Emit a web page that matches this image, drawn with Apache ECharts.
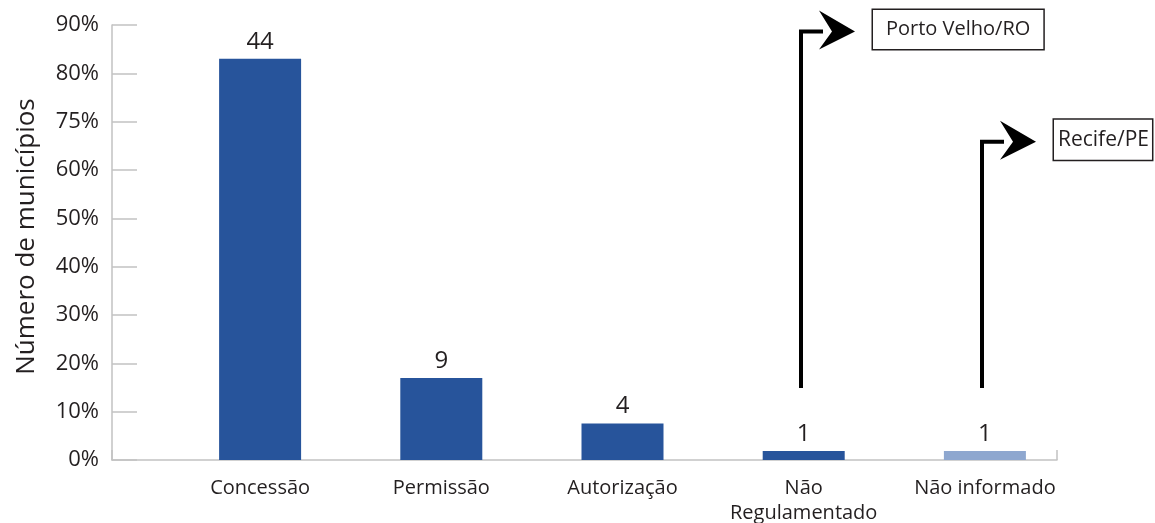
<!DOCTYPE html>
<html>
<head>
<meta charset="utf-8">
<script src="https://cdn.jsdelivr.net/npm/echarts@6/dist/echarts.min.js"></script>
<style>
  html, body { margin: 0; padding: 0; background: #ffffff; }
  #chart { width: 1155px; height: 523px; }
</style>
</head>
<body>
<div id="chart"></div>
<script>
// Regulation instrument of the local transport service, by number of municipalities
const categories = ['Concessão', 'Permissão', 'Autorização', 'Não\nRegulamentado', 'Não informado'];
const municipalities = [44, 9, 4, 1, 1];
const tickLabels = ['0%', '10%', '20%', '30%', '40%', '50%', '60%', '75%', '80%', '90%'];
const percentBase = 53;               // municipalities matching 100% on the axis
const calloutTexts = ['Porto Velho/RO', 'Recife/PE'];
const calloutCategories = [3, 4];     // index of the bar each callout points from

// styling / layout
const FONT = '"Open Sans", "Noto Sans", sans-serif';
const TEXT = '#231f20';
const AXIS = '#c2c2c2';
const barColors = ['#27549b', '#27549b', '#27549b', '#27549b', '#8ea7cf'];
const calloutLayout = [
  { bottom: 7.9, top: 47.0, fontSize: 20, pad: [10, 13, 9, 13] },
  { bottom: 7.9, top: 34.9, fontSize: 21, pad: [10, 3, 9, 4] }
];

const tickStep = percentBase / 10;
const axisMax = tickStep * (tickLabels.length - 1);

const chart = echarts.init(document.getElementById('chart'), null, { renderer: 'canvas' });

const option = {
  animation: false,
  backgroundColor: '#ffffff',
  textStyle: { fontFamily: FONT, color: TEXT },
  grid: [
    { left: 112, right: 98, top: 25, bottom: 63, outerBoundsMode: 'none', containLabel: false },   // axis frame
    { left: 169.5, width: 906, top: 25, bottom: 63, outerBoundsMode: 'none', containLabel: false } // bars
  ],
  xAxis: [
    {
      gridIndex: 0, type: 'value', min: 0, max: 1, interval: 1,
      axisLine: { show: true, lineStyle: { color: AXIS, width: 1.5 } },
      axisTick: { show: true, inside: true, length: 10, lineStyle: { color: AXIS, width: 1.5 } },
      axisLabel: { show: false },
      splitLine: { show: false }
    },
    {
      gridIndex: 1, type: 'category', data: categories,
      axisLine: { show: false },
      axisTick: { show: false },
      axisLabel: {
        interval: 0, margin: 16, fontSize: 20, lineHeight: 25,
        color: TEXT, fontFamily: FONT
      }
    }
  ],
  yAxis: [
    {
      gridIndex: 0, type: 'value', min: 0, max: axisMax, interval: tickStep,
      name: 'Número de municípios', nameLocation: 'middle', nameGap: 72,
      nameTextStyle: { fontSize: 26, color: TEXT, fontFamily: FONT, padding: [0, 0, 0, 12] },
      axisLine: { show: true, lineStyle: { color: AXIS, width: 1.5 } },
      axisTick: { show: true, inside: true, length: 25, lineStyle: { color: AXIS, width: 1.5 } },
      axisLabel: {
        margin: 13, fontSize: 22, color: TEXT, fontFamily: FONT,
        formatter: v => tickLabels[Math.round(v / tickStep)] || ''
      },
      splitLine: { show: false }
    },
    {
      gridIndex: 1, type: 'value', min: 0, max: axisMax, interval: tickStep, show: false
    }
  ],
  series: [
    {
      type: 'bar', xAxisIndex: 1, yAxisIndex: 1, barWidth: 82,
      data: municipalities.map((v, i) => ({ value: v, itemStyle: { color: barColors[i] } })),
      label: {
        show: true, position: 'top', distance: 5,
        fontSize: 24, color: TEXT, fontFamily: FONT
      }
    }
  ]
};

chart.setOption(option);

// Callout arrows pointing from the last two bars to the city boxes
const graphics = [];
calloutTexts.forEach((txt, i) => {
  const lay = calloutLayout[i];
  const pBottom = chart.convertToPixel({ gridIndex: 1 }, [calloutCategories[i], lay.bottom]);
  const pTop = chart.convertToPixel({ gridIndex: 1 }, [calloutCategories[i], lay.top]);
  const x = Math.round(pBottom[0]) - 3;
  const yb = pBottom[1];
  const yt = pTop[1];
  graphics.push({
    type: 'polyline',
    shape: { points: [[x, yb], [x, yt], [x + 22, yt]] },
    style: { stroke: '#000', lineWidth: 4, fill: null, lineJoin: 'miter' }
  });
  graphics.push({
    type: 'polygon',
    shape: { points: [[x + 18, yt - 21], [x + 54, yt], [x + 18, yt + 18], [x + 31, yt]] },
    style: { fill: '#000' }
  });
  graphics.push({
    type: 'text',
    x: x + 72, y: yt - 2,
    style: {
      text: txt, fontSize: lay.fontSize, fontFamily: FONT, fill: TEXT,
      verticalAlign: 'middle', align: 'left',
      backgroundColor: '#fff', borderColor: '#231f20', borderWidth: 1.5,
      padding: lay.pad
    }
  });
});
chart.setOption({ graphic: graphics });
</script>
</body>
</html>
